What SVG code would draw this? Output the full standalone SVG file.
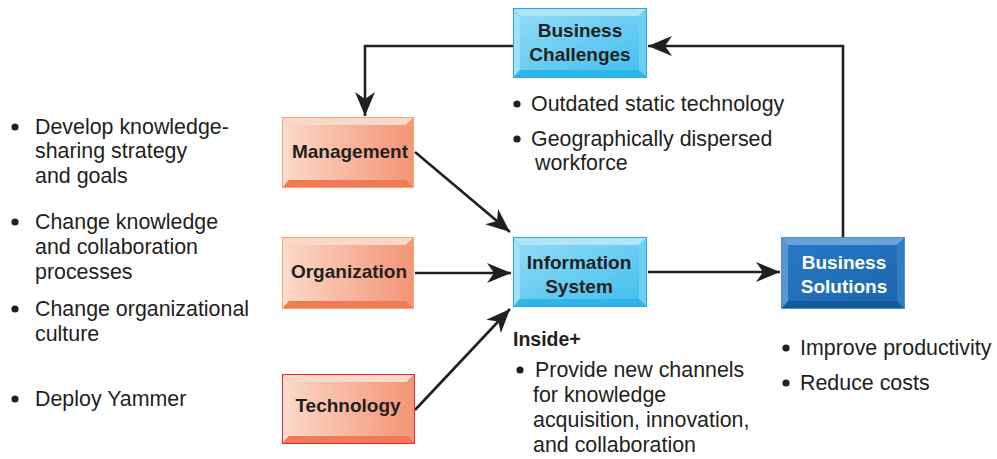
<svg xmlns="http://www.w3.org/2000/svg" width="997" height="459" viewBox="0 0 997 459">
<style>
text{font-family:"Liberation Sans",Arial,Helvetica,sans-serif;fill:#231f20}
.t{font-size:21.4px}
.n{font-size:19px;font-weight:bold;text-anchor:middle}
.w{fill:#ffffff}
.c{stroke:#231f20;stroke-width:2.6;fill:none}
.lbT{fill:#b3e5fa}.lbL{fill:#9fdff8}.lbR{fill:#6fd0f4}.lbB{fill:#2fb6e8}
.orT{fill:#fbd9ca}.orL{fill:#fcdccc}.orR{fill:#f49878}.orB{fill:#f07a58}
.dbT{fill:#6aa2da}.dbL{fill:#5b95d2}.dbR{fill:#2f7cc4}.dbB{fill:#155a9f}
</style>
<defs>
<linearGradient id="gLB" x1="0" y1="0" x2="1" y2="1"><stop offset="0" stop-color="#8fdaf7"/><stop offset="1" stop-color="#45c0ee"/></linearGradient>
<linearGradient id="gOR" x1="0" y1="0" x2="1" y2="0"><stop offset="0" stop-color="#fcd6c5"/><stop offset="1" stop-color="#f3977a"/></linearGradient>
<linearGradient id="gDB" x1="0" y1="0" x2="1" y2="1"><stop offset="0" stop-color="#2679c2"/><stop offset="1" stop-color="#1b67b0"/></linearGradient>
<marker id="ah" markerUnits="userSpaceOnUse" markerWidth="26" markerHeight="22" refX="24" refY="11" orient="auto" viewBox="0 0 26 22">
<path d="M0,1 L24,11 L0,21 L7,11 Z" fill="#231f20"/>
</marker>
</defs>

<g id="connectors">
<polyline class="c" points="513,46 365,46 365,116" marker-end="url(#ah)"/>
<polyline class="c" points="843,237 843,46 648,46" marker-end="url(#ah)"/>
<line class="c" x1="415" y1="152" x2="510" y2="232" marker-end="url(#ah)"/>
<line class="c" x1="415" y1="273" x2="511" y2="273" marker-end="url(#ah)"/>
<line class="c" x1="415" y1="410" x2="510" y2="309" marker-end="url(#ah)"/>
<line class="c" x1="648" y1="272" x2="780" y2="272" marker-end="url(#ah)"/>
</g>

<g id="business-challenges">
<rect x="513" y="8" width="134" height="70" fill="#29abe2"/>
<polygon class="lbT" points="514,9 646,9 639,16 520,16"/>
<polygon class="lbL" points="514,9 520,16 520,70 514,77"/>
<polygon class="lbR" points="646,9 639,16 639,70 646,77"/>
<polygon class="lbB" points="514,77 646,77 639,70 520,70"/>
<rect x="520" y="16" width="119" height="54" fill="url(#gLB)"/>
<text class="n" x="580" y="37">Business</text>
<text class="n" x="580" y="61">Challenges</text>
</g>

<g id="management">
<rect x="282" y="117" width="132" height="71" fill="#f4a46c"/>
<polygon class="orT" points="283,118 413,118 406,125 289,125"/>
<polygon class="orL" points="283,118 289,125 289,180 283,187"/>
<polygon class="orR" points="413,118 406,125 406,180 413,187"/>
<polygon class="orB" points="283,187 413,187 406,180 289,180"/>
<rect x="289" y="125" width="117" height="55" fill="url(#gOR)"/>
<text class="n" x="350" y="158">Management</text>
</g>

<g id="organization">
<rect x="282" y="237" width="132" height="72" fill="#f4a46c"/>
<polygon class="orT" points="283,238 413,238 406,245 289,245"/>
<polygon class="orL" points="283,238 289,245 289,301 283,308"/>
<polygon class="orR" points="413,238 406,245 406,301 413,308"/>
<polygon class="orB" points="283,308 413,308 406,301 289,301"/>
<rect x="289" y="245" width="117" height="56" fill="url(#gOR)"/>
<text class="n" x="349" y="278">Organization</text>
</g>

<g id="technology">
<rect x="282" y="374" width="133" height="70" fill="#e8262e"/>
<polygon class="orT" points="283,375 414,375 407,382 289,382"/>
<polygon class="orL" points="283,375 289,382 289,436 283,443"/>
<polygon class="orR" points="414,375 407,382 407,436 414,443"/>
<polygon class="orB" points="283,443 414,443 407,436 289,436"/>
<rect x="289" y="382" width="118" height="54" fill="url(#gOR)"/>
<text class="n" x="348" y="412">Technology</text>
</g>

<g id="information-system">
<rect x="513" y="237" width="134" height="70" fill="#29abe2"/>
<polygon class="lbT" points="514,238 646,238 639,245 520,245"/>
<polygon class="lbL" points="514,238 520,245 520,299 514,306"/>
<polygon class="lbR" points="646,238 639,245 639,299 646,306"/>
<polygon class="lbB" points="514,306 646,306 639,299 520,299"/>
<rect x="520" y="245" width="119" height="54" fill="url(#gLB)"/>
<text class="n" x="579" y="269">Information</text>
<text class="n" x="579" y="293">System</text>
</g>

<g id="business-solutions">
<rect x="781" y="237" width="124" height="72" fill="#4a8fd0"/>
<polygon class="dbT" points="782,238 904,238 897,245 788,245"/>
<polygon class="dbL" points="782,238 788,245 788,301 782,308"/>
<polygon class="dbR" points="904,238 897,245 897,301 904,308"/>
<polygon class="dbB" points="782,308 904,308 897,301 788,301"/>
<rect x="788" y="245" width="109" height="56" fill="url(#gDB)"/>
<text class="n w" x="844" y="269">Business</text>
<text class="n w" x="844" y="293">Solutions</text>
</g>

<g id="notes-left">
<circle cx="15" cy="127" r="3.6" fill="#231f20"/>
<text class="t" x="35" y="134">Develop knowledge-</text>
<text class="t" x="35" y="158">sharing strategy</text>
<text class="t" x="35" y="183">and goals</text>
<circle cx="15" cy="222" r="3.6" fill="#231f20"/>
<text class="t" x="35" y="229">Change knowledge</text>
<text class="t" x="35" y="254">and collaboration</text>
<text class="t" x="35" y="279">processes</text>
<circle cx="15" cy="309" r="3.6" fill="#231f20"/>
<text class="t" x="35" y="316">Change organizational</text>
<text class="t" x="35" y="341">culture</text>
<circle cx="15" cy="399" r="3.6" fill="#231f20"/>
<text class="t" x="35" y="406">Deploy Yammer</text>
</g>

<g id="notes-challenges">
<circle cx="517" cy="104" r="3.6" fill="#231f20"/>
<text class="t" x="531" y="111">Outdated static technology</text>
<circle cx="517" cy="139" r="3.6" fill="#231f20"/>
<text class="t" x="531" y="146">Geographically dispersed</text>
<text class="t" x="535" y="170">workforce</text>
</g>

<g id="notes-is">
<text class="t" x="513" y="346" style="font-weight:bold;font-size:19.5px">Inside+</text>
<circle cx="520" cy="370" r="3.6" fill="#231f20"/>
<text class="t" x="535" y="377">Provide new channels</text>
<text class="t" x="533" y="402">for knowledge</text>
<text class="t" x="533" y="427">acquisition, innovation,</text>
<text class="t" x="533" y="452">and collaboration</text>
</g>

<g id="notes-solutions">
<circle cx="786" cy="348" r="3.6" fill="#231f20"/>
<text class="t" x="800" y="355">Improve productivity</text>
<circle cx="786" cy="383" r="3.6" fill="#231f20"/>
<text class="t" x="800" y="390">Reduce costs</text>
</g>
</svg>
